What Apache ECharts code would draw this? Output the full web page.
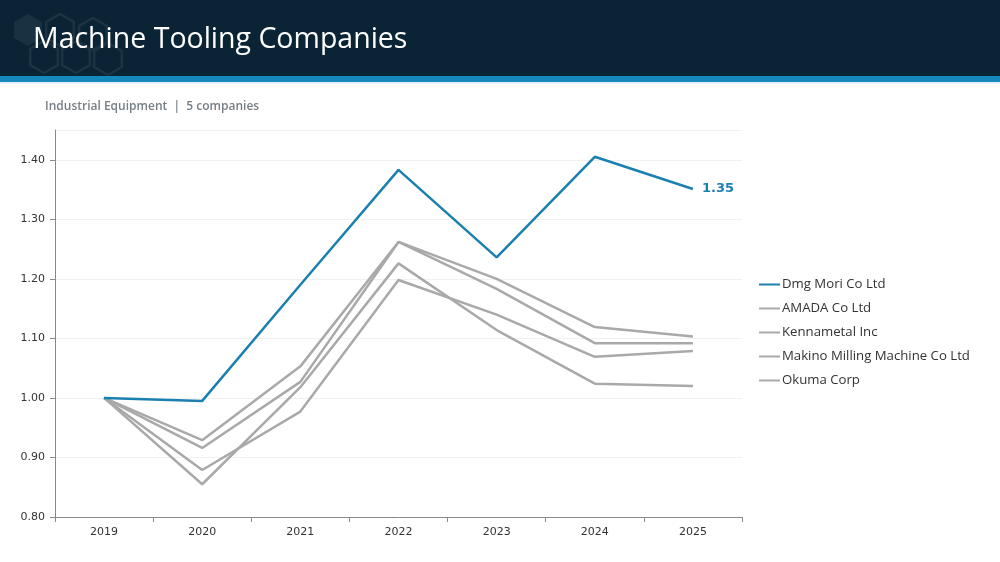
<!DOCTYPE html>
<html>
<head>
<meta charset="utf-8">
<script src="https://cdn.jsdelivr.net/npm/echarts@6/dist/echarts.min.js"></script>
<style>
  html, body { margin: 0; padding: 0; background: #fff; }
  #main { width: 1000px; height: 562px; }
</style>
</head>
<body>
<div id="main"></div>
<script>
// years on the x axis
var years = ['2019', '2020', '2021', '2022', '2023', '2024', '2025'];
// indexed performance
var dmgMori = [1.00, 0.995, 1.19, 1.383, 1.236, 1.405, 1.351];
var amada = [1.00, 0.929, 1.053, 1.262, 1.200, 1.119, 1.103];
var kennametal = [1.00, 0.916, 1.027, 1.262, 1.183, 1.092, 1.092];
var makino = [1.00, 0.879, 0.977, 1.198, 1.140, 1.069, 1.079];
var okuma = [1.00, 0.855, 1.018, 1.226, 1.114, 1.024, 1.020];
var names = ['Dmg Mori Co Ltd', 'AMADA Co Ltd', 'Kennametal Inc', 'Makino Milling Machine Co Ltd', 'Okuma Corp'];

var BLUE = '#1a80b0';
var GREY = '#a9a9a9';

// header hexagon decoration
function hex(cx, cy, r) {
  var pts = [];
  for (var i = 0; i < 6; i++) {
    var a = Math.PI / 180 * (60 * i + 30);
    pts.push([cx + r * Math.cos(a), cy + r * Math.sin(a)]);
  }
  return pts;
}
var hexes = [
  { c: [28, 30], fill: true },
  { c: [60, 30] }, { c: [93, 34] },
  { c: [44, 57] }, { c: [76, 57] }, { c: [108, 59] }
].map(function (h) {
  return {
    type: 'polygon',
    shape: { points: hex(h.c[0], h.c[1], 16) },
    style: h.fill ? { fill: '#1a3142' } : { fill: 'none', stroke: '#1c3343', lineWidth: 2.5 },
    z: 1
  };
});

var chart = echarts.init(document.getElementById('main'));
var option = {
  animation: false,
  graphic: [
    { type: 'rect', shape: { x: 0, y: 0, width: 1000, height: 76 }, style: { fill: '#0b2435' }, z: 0 },
    { type: 'rect', shape: { x: 0, y: 76, width: 1000, height: 6 }, style: { fill: '#1589be' }, z: 2 },
    { type: 'rect', shape: { x: 0, y: 82, width: 1000, height: 2 }, style: { fill: '#e4f1f7' }, z: 2 }
  ].concat(hexes).concat([
    {
      type: 'text', left: 33, top: 25, z: 5,
      style: { text: 'Machine Tooling Companies', fill: '#ffffff', font: '28.5px "Open Sans", sans-serif' }
    },
    {
      type: 'text', left: 45, top: 101, z: 5,
      style: { text: 'Industrial Equipment  |  5 companies', fill: '#767e85', font: '600 12px "Open Sans", sans-serif' }
    }
  ]),
  grid: { left: 55, right: 258, top: 130, bottom: 45 },
  legend: {
    orient: 'vertical',
    left: 754,
    top: 273,
    itemGap: 11,
    itemWidth: 21,
    itemHeight: 2,
    icon: 'rect',
    textStyle: { color: '#333', fontSize: 13.2, fontFamily: 'Open Sans', padding: [0, 0, 0, -3] },
    data: names
  },
  xAxis: {
    type: 'category',
    data: years,
    boundaryGap: true,
    axisLine: { lineStyle: { color: '#8a8a8a', width: 1 } },
    axisTick: { show: true, length: 5, lineStyle: { color: '#8a8a8a' } },
    axisLabel: { color: '#333', fontSize: 11, fontFamily: 'DejaVu Sans', margin: 10 },
    splitLine: { show: false }
  },
  yAxis: {
    type: 'value',
    min: 0.8,
    max: 1.45,
    interval: 0.1,
    axisLine: { show: true, lineStyle: { color: '#8a8a8a', width: 1 } },
    axisTick: { show: true, length: 5, lineStyle: { color: '#8a8a8a' } },
    axisLabel: {
      color: '#333', fontSize: 11, fontFamily: 'DejaVu Sans', margin: 10,
      showMaxLabel: false,
      formatter: function (v) { return v.toFixed(2); }
    },
    splitLine: { show: true, lineStyle: { color: '#f1f1f1', width: 1 } }
  },
  series: [
    {
      name: names[0], type: 'line', data: dmgMori, symbol: 'none', z: 10,
      lineStyle: { color: BLUE, width: 2.5 }, itemStyle: { color: BLUE },
      endLabel: {
        show: true, distance: 9, color: BLUE, fontSize: 13, fontWeight: 'bold',
        fontFamily: 'DejaVu Sans',
        formatter: function (p) { return p.value.toFixed(2); }
      }
    },
    { name: names[1], type: 'line', data: amada, symbol: 'none', lineStyle: { color: GREY, width: 2.5 }, itemStyle: { color: GREY } },
    { name: names[2], type: 'line', data: kennametal, symbol: 'none', lineStyle: { color: GREY, width: 2.5 }, itemStyle: { color: GREY } },
    { name: names[3], type: 'line', data: makino, symbol: 'none', lineStyle: { color: GREY, width: 2.5 }, itemStyle: { color: GREY } },
    { name: names[4], type: 'line', data: okuma, symbol: 'none', lineStyle: { color: GREY, width: 2.5 }, itemStyle: { color: GREY } }
  ]
};
chart.setOption(option);
</script>
</body>
</html>
